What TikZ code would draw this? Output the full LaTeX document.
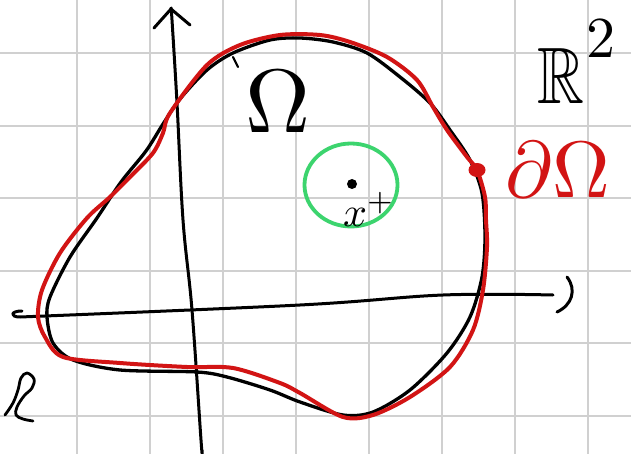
\documentclass[tikz,border=0pt]{standalone}
\usepackage{amssymb}
\usetikzlibrary{shapes.geometric}
\definecolor{gridgray}{RGB}{208,208,208}
\definecolor{inkred}{RGB}{210,20,20}
\definecolor{inkgreen}{RGB}{60,212,110}
\begin{document}
\begin{tikzpicture}[x=1pt,y=-1pt,
  gridline/.style={draw=gridgray,line width=1.4pt},
  ink/.style={line width=3.3pt,line cap=round,line join=round},
  axis/.style={ink,line width=3pt},
  redink/.style={ink,draw=inkred,line width=4pt},
  label/.style={inner sep=0pt,outer sep=0pt}]
\useasboundingbox (0,0) rectangle (631,454);
\fill[white] (0,0) rectangle (631,454);
\foreach \x in {77,150,223,296,369,442,515,588} \draw[gridline] (\x,0) -- (\x,454);
\foreach \y in {53,126,198,271,343,416} \draw[gridline] (0,\y) -- (631,\y);

% axes
\draw[axis] plot[smooth,tension=0.6] coordinates {(171,8) (172,20) (177,103) (183,220) (192,310) (201,440) (202,450)};
\draw[axis] (154,28) -- (171,9) -- (190,25);
\coordinate (hl) at (22,311);
\draw[axis] (hl) .. controls (10,311) and (10,317) .. (20,317)
  plot[smooth,tension=0.6] coordinates {(20,317) (300,305) (443,295) (553,295)};
\draw[axis] (567,277) .. controls (577,290) and (572,305) .. (557,312);

% black boundary
\draw[ink] plot[smooth cycle,tension=0.5] coordinates {(207,70) (233,53) (270,40) (300,38) (333,42) (367,53) (400,77) (430,103) (450,130) (470,160) (482,193) (485,237) (482,277) (470,317) (447,353) (410,390) (373,412) (343,415) (300,402) (270,390) (227,377) (197,372) (120,370) (73,360) (53,343) (47,317) (50,297) (70,257) (97,218) (121,182) (146,151) (163,124) (180,99)};
\draw[ink,line width=2.2pt] (233,57) -- (238,67);

% red boundary
\draw[redink] plot[smooth cycle,tension=0.5] coordinates {(207,65) (240,45) (280,35) (320,35) (350,42) (387,57) (417,80) (433,107) (447,130) (467,157) (477,170) (485,197) (486,220) (487,247) (483,290) (473,330) (450,367) (410,397) (373,415) (343,417) (300,393) (280,383) (233,368) (187,367) (120,363) (63,357) (45,337) (38,317) (42,290) (60,253) (87,218) (110,197) (130,177) (153,153) (163,133) (170,113)};
\node[ellipse,fill=inkred,minimum width=17pt,minimum height=14pt,inner sep=0pt] (p) at (477,170) {};

% green ball
\node[draw=inkgreen,line width=3.8pt,ellipse,minimum width=93pt,minimum height=83pt,inner sep=0pt] (ball) at (351,185) {};
\node[circle,fill=black,minimum size=10pt,inner sep=0pt] (c) at (352,184) {};
\node[label,scale=4.2,anchor=base west] (xl) at (343,226) {$x^{+}$};

% labels
\node[label,scale=9] (om) at (278,102) {$\Omega$};
\node[label,scale=8,text=inkred] (dom) at (558,170) {$\partial\Omega$};
\node[label,xscale=6.5,yscale=8] (r) at (561,76) {$\mathbb{R}$};
\node[label,scale=5.8] (two) at (601,39) {$2$};

% bottom-left scribble
\draw[ink,line width=2.8pt] plot[smooth,tension=0.6] coordinates {(5,415) (13,403) (18,390) (21,378) (27,373) (34,379) (32,388) (24,396) (17,407) (16,415) (23,419) (33,421)};
\end{tikzpicture}
\end{document}
